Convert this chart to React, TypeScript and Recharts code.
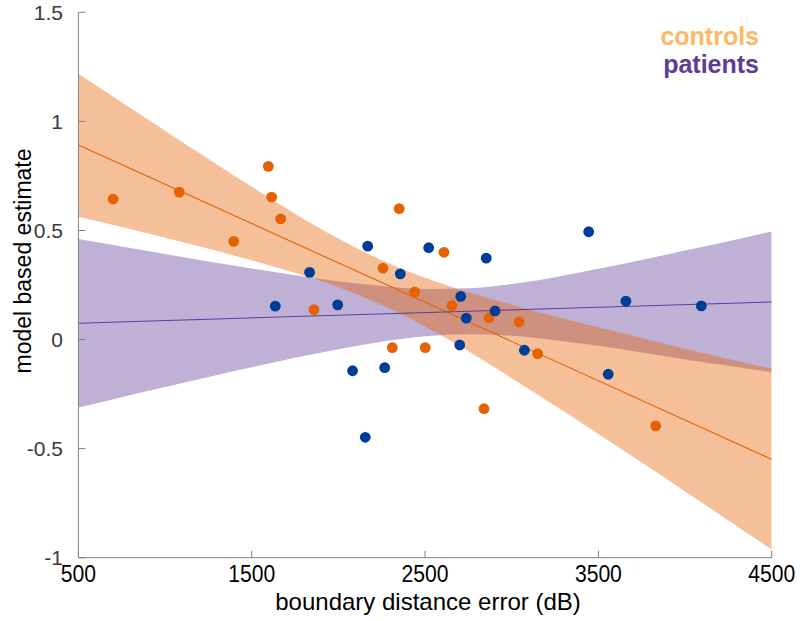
import React from 'react';
import { ComposedChart, Area, Line, Scatter, XAxis, YAxis } from 'recharts';

// ---- data ----
const controlsX = [700, 1082, 1396, 1596, 1615, 1667, 1859, 2257, 2351, 2311, 2440, 2501, 2609, 2655, 2869, 3044, 3150, 2840, 3831];
const controlsY = [0.644, 0.676, 0.45, 0.794, 0.653, 0.553, 0.137, 0.327, 0.6, -0.037, 0.218, -0.037, 0.4, 0.155, 0.1, 0.081, -0.065, -0.317, -0.396];

const patientsX = [1636, 1834, 1996, 2082, 2169, 2155, 2267, 2357, 2521, 2706, 2738, 2700, 2853, 2904, 3073, 3444, 3557, 3659, 4094];
const patientsY = [0.153, 0.308, 0.159, -0.143, 0.428, -0.448, -0.129, 0.301, 0.421, 0.198, 0.098, -0.025, 0.373, 0.131, -0.049, 0.494, -0.159, 0.176, 0.154];

const fitX = [500, 4500];
const controlsFit = [0.892, -0.549];
const patientsFit = [0.075, 0.172];

const bandX = [500, 750, 1000, 1250, 1500, 1750, 2000, 2250, 2500, 2750, 3000, 3250, 3500, 3750, 4000, 4250, 4500];
const controlsLo = [0.563, 0.516, 0.467, 0.417, 0.363, 0.306, 0.24, 0.159, 0.06, -0.054, -0.177, -0.304, -0.433, -0.564, -0.696, -0.829, -0.962];
const controlsHi = [1.218, 1.088, 0.957, 0.827, 0.7, 0.577, 0.463, 0.364, 0.283, 0.217, 0.159, 0.106, 0.056, 0.007, -0.042, -0.089, -0.133];
const patientsLo = [-0.312, -0.264, -0.218, -0.172, -0.127, -0.084, -0.044, -0.01, 0.015, 0.024, 0.017, -0.003, -0.029, -0.059, -0.091, -0.12, -0.15];
const patientsHi = [0.461, 0.427, 0.392, 0.358, 0.326, 0.295, 0.267, 0.245, 0.232, 0.235, 0.255, 0.286, 0.324, 0.365, 0.408, 0.451, 0.495];

const xTicks = [500, 1500, 2500, 3500, 4500];
const yTicks = [-1, -0.5, 0, 0.5, 1, 1.5];

const seriesNames = ['controls', 'patients'];
const xLabel = 'boundary distance error (dB)';
const yLabel = 'model based estimate';

// ---- styles ----
const ORANGE = '#e66101';
const LIGHT_ORANGE = '#fdb863';
const PURPLE = '#5e3c99';
const BLUE = '#003d99';
const AXIS = '#808080';
const FONT = "'Liberation Sans', Arial, sans-serif";

const bandData = bandX.map((x, i) => ({
  x,
  controls: [controlsLo[i], controlsHi[i]],
  patients: [patientsLo[i], patientsHi[i]],
}));
const controlsPts = controlsX.map((x, i) => ({ x, y: controlsY[i] }));
const patientsPts = patientsX.map((x, i) => ({ x, y: patientsY[i] }));
const controlsLine = fitX.map((x, i) => ({ x, y: controlsFit[i] }));
const patientsLine = fitX.map((x, i) => ({ x, y: patientsFit[i] }));

const dot = (color: string) => (p: any) => (
  <circle cx={p.cx} cy={p.cy} r={5.4} fill={color} stroke="none" />
);

const XTick = (p: any) => (
  <g transform={`translate(${p.x},${p.y})`}>
    <text
      transform="scale(0.88,1)"
      textAnchor="middle"
      dy="0.71em"
      fill="#000"
      fontSize={24}
      fontFamily={FONT}
    >
      {p.payload.value}
    </text>
  </g>
);

export default function App() {
  return (
    <div style={{ position: 'fixed', left: 0, top: 0, width: 800, height: 621, background: '#fff' }}>
      <ComposedChart
        width={800}
        height={621}
        data={bandData}
        margin={{ top: 12.3, right: 28.3, bottom: 0, left: 0 }}
      >
        <XAxis
          dataKey="x"
          type="number"
          domain={[500, 4500]}
          ticks={xTicks}
          allowDataOverflow
          height={63.3}
          axisLine={{ stroke: AXIS }}
          tickLine={{ stroke: AXIS }}
          tickSize={-7}
          tickMargin={14}
          tick={<XTick />}
        />
        <YAxis
          dataKey="y"
          type="number"
          domain={[-1, 1.5]}
          ticks={yTicks}
          allowDataOverflow
          width={78.4}
          axisLine={{ stroke: AXIS }}
          tickLine={{ stroke: AXIS }}
          tickSize={-7}
          tickMargin={22.4}
          tick={{ fill: '#3a3a3a', fontSize: 21, fontFamily: FONT }}
        />
        <Area
          dataKey="patients"
          type="monotone"
          stroke="none"
          fill={PURPLE}
          fillOpacity={0.4}
          isAnimationActive={false}
        />
        <Area
          dataKey="controls"
          type="monotone"
          stroke="none"
          fill={ORANGE}
          fillOpacity={0.4}
          isAnimationActive={false}
        />
        <Line data={controlsLine} dataKey="y" stroke={ORANGE} strokeWidth={1.1} dot={false} isAnimationActive={false} />
        <Line data={patientsLine} dataKey="y" stroke={PURPLE} strokeWidth={1.1} dot={false} isAnimationActive={false} />
        <Scatter data={controlsPts} dataKey="y" shape={dot(ORANGE)} isAnimationActive={false} />
        <Scatter data={patientsPts} dataKey="y" shape={dot(BLUE)} isAnimationActive={false} />
      </ComposedChart>
      <svg
        width={800}
        height={621}
        style={{ position: 'absolute', left: 0, top: 0, pointerEvents: 'none' }}
      >
        <text x={759} y={45} textAnchor="end" fill={LIGHT_ORANGE} fontSize={25} fontWeight="bold" fontFamily={FONT}>
          {seriesNames[0]}
        </text>
        <text x={759} y={73} textAnchor="end" fill={PURPLE} fontSize={25} fontWeight="bold" fontFamily={FONT}>
          {seriesNames[1]}
        </text>
        <text x={428} y={610} textAnchor="middle" fill="#000" fontSize={24} fontFamily={FONT}>
          {xLabel}
        </text>
        <text x={31} y={261} textAnchor="middle" transform="rotate(-90, 31, 261)" fill="#000" fontSize={23} fontFamily={FONT}>
          {yLabel}
        </text>
      </svg>
    </div>
  );
}
